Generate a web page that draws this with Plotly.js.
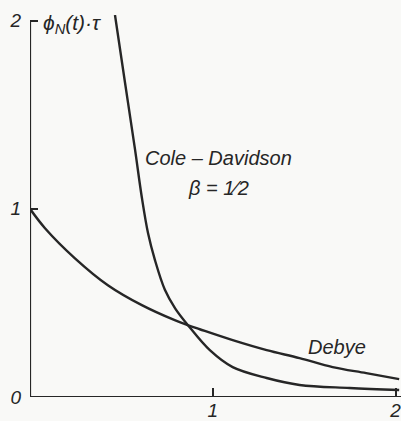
<!DOCTYPE html>
<html>
<head>
<meta charset="utf-8">
<script src="https://cdn.plot.ly/plotly-3.0.1.min.js"></script>
<style>
  html, body { margin: 0; padding: 0; background: #f9f9f7; }
  #chart { width: 401px; height: 421px; }
</style>
</head>
<body>
<div id="chart"></div>
<script>
// Normalised relaxation functions phi_N(t)*tau versus t/tau
const debyeT = [0, 0.082, 0.246, 0.426, 0.612, 0.792, 0.863, 0.929, 1.109, 1.295, 1.475, 1.656, 1.84, 2.02];
const debyePhi = [1.0, 0.897, 0.737, 0.594, 0.488, 0.408, 0.382, 0.36, 0.302, 0.249, 0.207, 0.159, 0.127, 0.095];

const coleT = [0.465, 0.52, 0.574, 0.612, 0.646, 0.683, 0.738, 0.795, 0.87, 0.984, 1.109, 1.295, 1.475, 1.749, 2.02];
const colePhi = [2.03, 1.67, 1.32, 1.06, 0.87, 0.73, 0.57, 0.47, 0.375, 0.249, 0.159, 0.101, 0.064, 0.048, 0.037];

const xTickVals = [1, 2];
const xTickText = ['1', '2'];
const yTickVals = [0, 1, 2];
const yTickText = ['0', '1', '2'];

const ink = '#262626';
const family = 'Liberation Sans, Arial, sans-serif';
const textFont = { family: family, size: 20, color: ink, style: 'italic' };
const tickFont = { family: family, size: 19, color: ink, style: 'italic' };

const lineStyle = { color: ink, width: 2.4, shape: 'spline', smoothing: 1 };

const traces = [
  { x: debyeT, y: debyePhi, type: 'scatter', mode: 'lines', line: lineStyle, hoverinfo: 'skip' },
  { x: coleT, y: colePhi, type: 'scatter', mode: 'lines', line: lineStyle, hoverinfo: 'skip' }
];

const layout = {
  width: 401,
  height: 421,
  margin: { l: 30, r: 0, t: 15, b: 24 },
  paper_bgcolor: '#f9f9f7',
  plot_bgcolor: '#f9f9f7',
  showlegend: false,
  xaxis: {
    range: [0, 2.03],
    showgrid: false, zeroline: false, showline: false,
    tickvals: xTickVals, ticktext: xTickText,
    ticks: 'inside', ticklen: 9, tickwidth: 2, tickcolor: ink,
    ticklabeloverflow: 'allow',
    tickfont: tickFont
  },
  yaxis: {
    range: [0, 2.03],
    showgrid: false, zeroline: false, showline: false,
    tickvals: yTickVals, ticktext: yTickText,
    ticks: 'inside', ticklen: 8, tickwidth: 2, tickcolor: ink,
    ticklabelstandoff: 8,
    ticklabeloverflow: 'allow',
    tickfont: tickFont
  },
  shapes: [
    { type: 'line', xref: 'x', yref: 'y', x0: 0, x1: 2.03, y0: 0, y1: 0, line: { color: ink, width: 2.2 } },
    { type: 'line', xref: 'x', yref: 'y', x0: 0, x1: 0, y0: 0, y1: 2, line: { color: ink, width: 2.2 } }
  ],
  annotations: [
    { xref: 'x', yref: 'y', x: 0.06, y: 1.98, xanchor: 'left', yanchor: 'middle', showarrow: false,
      text: 'ϕ<sub>N</sub>(t)·τ', font: { family: family, size: 21, color: ink, style: 'italic' } },
    { xref: 'x', yref: 'y', x: 1.03, y: 1.27, xanchor: 'center', yanchor: 'middle', showarrow: false,
      text: 'Cole – Davidson', font: textFont },
    { xref: 'x', yref: 'y', x: 1.03, y: 1.11, xanchor: 'center', yanchor: 'middle', showarrow: false,
      text: 'β = 1⁄2', font: textFont },
    { xref: 'x', yref: 'y', x: 1.68, y: 0.265, xanchor: 'center', yanchor: 'middle', showarrow: false,
      text: 'Debye', font: textFont }
  ]
};

Plotly.newPlot('chart', traces, layout, { staticPlot: true, displayModeBar: false });
</script>
</body>
</html>
